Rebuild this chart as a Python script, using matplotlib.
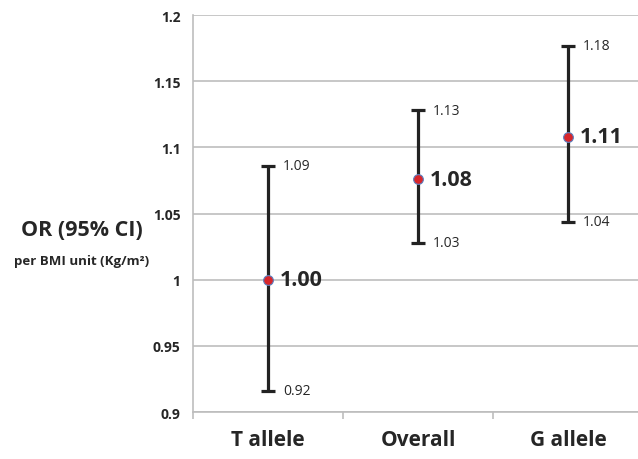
import numpy as np
import matplotlib.pyplot as plt

plt.rcParams['font.family'] = ['Open Sans', 'DejaVu Sans']

groups = ['T allele', 'Overall', 'G allele']
or_vals = [1.000, 1.076, 1.108]
ci_low = [0.916, 1.028, 1.044]
ci_high = [1.086, 1.128, 1.177]
or_labels = ['1.00', '1.08', '1.11']
low_labels = ['0.92', '1.03', '1.04']
high_labels = ['1.09', '1.13', '1.18']

fig = plt.figure(figsize=(6.38, 4.6), dpi=100)
ax = fig.add_axes([0.3025, 0.102, 0.7053, 0.863])

x = np.arange(len(groups))
or_arr = np.array(or_vals)
err = [or_arr - np.array(ci_low), np.array(ci_high) - or_arr]

ax.errorbar(x, or_arr, yerr=err, fmt='none', ecolor='#222222', elinewidth=2.3,
            capsize=5, capthick=2.3, zorder=3)
ax.plot(x, or_arr, 'o', ms=7, mfc='#D7262B', mec='#5B7FC0', mew=0.8, zorder=4)

for i in range(len(groups)):
    ax.text(x[i] + 0.08, or_vals[i], or_labels[i], fontsize=15.5, fontweight='bold',
            color='#262626', va='center', ha='left')
    ax.text(x[i] + 0.1, ci_high[i], high_labels[i], fontsize=10, color='#262626',
            va='center', ha='left')
    ax.text(x[i] + 0.1, ci_low[i], low_labels[i], fontsize=10, color='#262626',
            va='center', ha='left')

ax.set_xlim(-0.5, 2.5)
ax.set_ylim(0.9, 1.2)
ax.set_yticks(np.arange(0.9, 1.2001, 0.05))
ax.set_yticklabels(['0.9', '0.95', '1', '1.05', '1.1', '1.15', '1.2'])
ax.yaxis.grid(True, color='#BDBDBD', lw=1.2)
ax.set_axisbelow(True)

ax.set_xticks([-0.5, 0.5, 1.5])
ax.set_xticklabels([])
ax.set_xticks(x, minor=True)
ax.set_xticklabels(groups, minor=True, fontsize=15, fontweight='bold', color='#262626')
ax.tick_params(axis='x', which='major', length=5, color='#BDBDBD', width=1.2)
ax.tick_params(axis='x', which='minor', length=0, pad=12)
ax.tick_params(axis='y', length=0, labelsize=10, labelcolor='#262626', pad=9)
for lab in ax.get_yticklabels():
    lab.set_fontweight('bold')

for s in ['top', 'right']:
    ax.spines[s].set_visible(False)
ax.spines['left'].set_color('#BDBDBD')
ax.spines['bottom'].set_color('#BDBDBD')
ax.spines['left'].set_linewidth(1.2)
ax.spines['bottom'].set_linewidth(1.2)

fig.text(0.128, 1 - 231 / 460, 'OR (95% CI)', fontsize=15.5, fontweight='bold',
         color='#262626', ha='center', va='center')
fig.text(0.128, 1 - 262 / 460, 'per BMI unit (Kg/m²)', fontsize=9.5, fontweight='bold',
         color='#262626', ha='center', va='center')

fig.savefig('out.png', dpi=100)
